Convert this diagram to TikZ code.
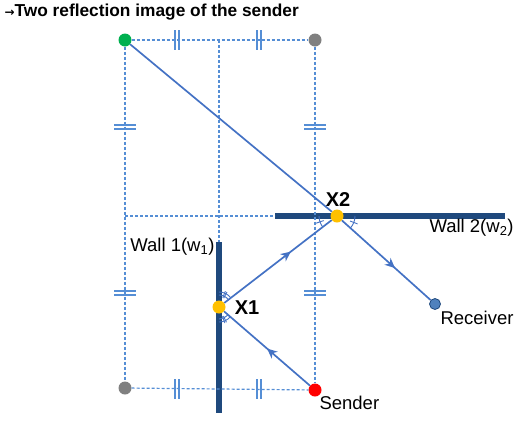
\documentclass[tikz,border=0pt]{standalone}
\usepackage{fontspec}
\setmainfont{Liberation Sans}
\newfontfamily\arrowfont{DejaVu Sans}
\usetikzlibrary{decorations.markings,arrows.meta}
\definecolor{guideblue}{RGB}{85,142,213}
\definecolor{raysblue}{RGB}{68,114,196}
\definecolor{wallnavy}{RGB}{31,73,125}
\definecolor{imggreen}{RGB}{0,176,80}
\definecolor{imggray}{RGB}{128,128,128}
\definecolor{hitgold}{RGB}{255,192,0}
\definecolor{rxblue}{RGB}{79,129,189}
\begin{document}
\begin{tikzpicture}[x=1pt,y=-1pt,font=\fontsize{18.5}{21}\selectfont]
\tikzstyle{dot}=[circle,minimum size=13pt,inner sep=0pt]
\tikzstyle{guide}=[draw=guideblue,densely dashed,line width=1.2pt]
\tikzstyle{ray}=[draw=raysblue,line width=1.7pt]
\tikzstyle{wall}=[draw=wallnavy,line width=5.5pt]
\tikzstyle{eqmark}=[draw=guideblue,line width=1.3pt]
\tikzstyle{anglemark}=[draw=raysblue,line width=0.9pt]
\tikzstyle{midarrow}=[postaction={decorate},decoration={markings,
    mark=at position #1 with {\arrow[raysblue]{Stealth[length=10pt,width=9pt,inset=3pt]}}}]
\useasboundingbox (0,0) rectangle (514,421);
    % corners of the guide rectangle and the walls
    \coordinate (top1) at (219,40);
    \coordinate (w1top) at (219,242);
    \coordinate (w1bot) at (219,413);
    \coordinate (w2left) at (275,216);
    \coordinate (w2right) at (505,216);
    \coordinate (midleft) at (125,216);
    \path[wall] (w1top) -- (w1bot);
    \path[wall] (w2left) -- (w2right);
    % images, sender, receiver and hit points
    \node[dot,fill=imggreen] (img2) at (125,40) {};
    \node[dot,fill=imggray] (img1a) at (315,40) {};
    \node[dot,fill=imggray] (img1b) at (125,388) {};
    \node[dot,fill=red] (snd) at (315,390) {};
    \node[dot,fill=hitgold] (x1) at (219,307) {};
    \node[dot,fill=hitgold] (x2) at (337,216) {};
    \node[dot,fill=rxblue,draw=wallnavy,line width=0.8pt,minimum size=11pt] (rx) at (435,304) {};
    % dashed guides
    \path (img2) edge[guide] (img1a);
    \path (img2) edge[guide] (img1b);
    \path (img1b) edge[guide] (snd);
    \path (img1a) edge[guide] (snd);
    \path (top1) edge[guide] (w1top);
    \path (midleft) edge[guide] (w2left);
    % equal-length marks
    \foreach \tx in {177,259} {
      \foreach \ty in {40,389} {
        \draw[eqmark] (\tx-2,\ty-10) -- (\tx-2,\ty+10);
        \draw[eqmark] (\tx+2,\ty-10) -- (\tx+2,\ty+10);
      }
    }
    \foreach \tx in {125,315} {
      \foreach \ty in {127,293} {
        \draw[eqmark] (\tx-11,\ty-2) -- (\tx+11,\ty-2);
        \draw[eqmark] (\tx-11,\ty+2) -- (\tx+11,\ty+2);
      }
    }
    % rays
    \path (img2) edge[ray] (x2);
    \path (snd) edge[ray,midarrow=0.5] (x1);
    \path (x1) edge[ray,midarrow=0.62] (x2);
    \path (x2) edge[ray,midarrow=0.6] (rx);
    % equal angles
    \draw[anglemark] ([shift={(-90:12)}]x1.center) arc[start angle=-90,end angle=-37.6,radius=12];
    \draw[anglemark] ([shift={(-90:15)}]x1.center) arc[start angle=-90,end angle=-37.6,radius=15];
    \draw[anglemark] ([shift={(90:12)}]x1.center) arc[start angle=90,end angle=40.8,radius=12];
    \draw[anglemark] ([shift={(90:15)}]x1.center) arc[start angle=90,end angle=40.8,radius=15];
    \draw[anglemark] ([shift={(-62:10)}]x1.center) -- ([shift={(-62:17)}]x1.center);
    \draw[anglemark] ([shift={(-68:10)}]x1.center) -- ([shift={(-68:17)}]x1.center);
    \draw[anglemark] ([shift={(64:10)}]x1.center) -- ([shift={(64:17)}]x1.center);
    \draw[anglemark] ([shift={(70:10)}]x1.center) -- ([shift={(70:17)}]x1.center);
    \draw[anglemark] ([shift={(180:18)}]x2.center) arc[start angle=180,end angle=142.4,radius=18];
    \draw[anglemark] ([shift={(0:18)}]x2.center) arc[start angle=0,end angle=41.9,radius=18];
    \draw[anglemark] ([shift={(161:14)}]x2.center) -- ([shift={(161:22)}]x2.center);
    \draw[anglemark] ([shift={(21:14)}]x2.center) -- ([shift={(21:22)}]x2.center);
    % labels
    \node[anchor=west,font=\fontsize{17.3}{20}\selectfont\bfseries] (title) at (1,12) {{\arrowfont\fontsize{12}{12}\selectfont →}Two reflection image of the sender};
    \node[font=\fontsize{20}{22}\selectfont\bfseries] (x1lbl) at (247,308) {X1};
    \node[font=\fontsize{20}{22}\selectfont\bfseries] (x2lbl) at (338,200) {X2};
    \node[anchor=east] (w1lbl) at (218,247) {Wall 1(w\textsubscript{1})};
    \node[anchor=west] (w2lbl) at (426,228) {Wall 2(w\textsubscript{2})};
    \node[anchor=west] (rxlbl) at (437,318) {Receiver};
    \node[anchor=west] (sndlbl) at (316,403) {Sender};
\end{tikzpicture}
\end{document}
